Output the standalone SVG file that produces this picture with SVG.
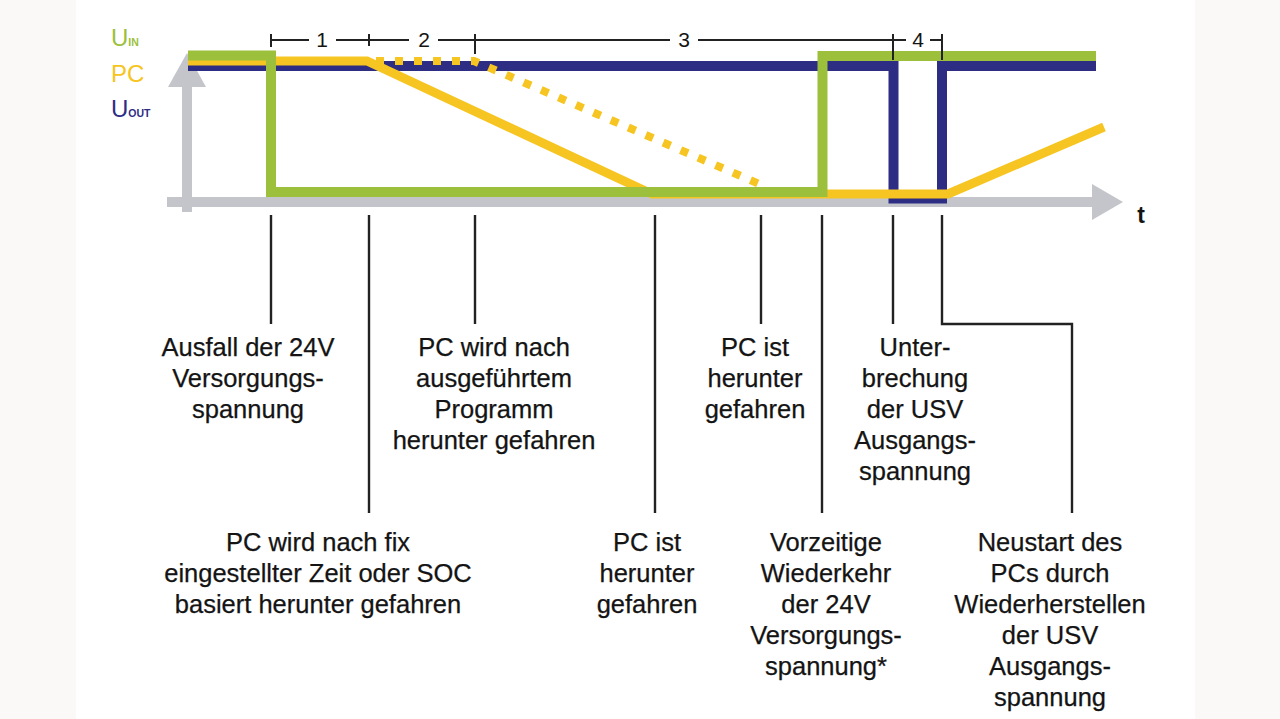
<svg xmlns="http://www.w3.org/2000/svg" width="1280" height="719" viewBox="0 0 1280 719">
<style>
.lbl{font-family:"Liberation Sans",Arial,Helvetica,sans-serif;font-size:25.5px;fill:#141414;text-anchor:middle;stroke:#141414;stroke-width:0.25}
.num{font-family:"Liberation Sans",Arial,Helvetica,sans-serif;font-size:21px;fill:#141414;text-anchor:middle}
.leg{font-family:"Liberation Sans",Arial,Helvetica,sans-serif;font-size:24px}
.sub{font-family:"Liberation Sans",Arial,Helvetica,sans-serif;font-size:10.5px;font-weight:bold}
.tick{stroke:#222;stroke-width:2.4;fill:none}
.brk{stroke:#222;stroke-width:2;fill:none}
.sig{fill:none;stroke-linejoin:miter;stroke-linecap:butt}
</style>
<rect x="0" y="0" width="1280" height="719" fill="#ffffff"/>
<rect x="0" y="0" width="76" height="719" fill="#fbf9f8"/>
<rect x="1195" y="0" width="85" height="719" fill="#fbf9f8"/>

<g id="axes" fill="#c3c5cb">
  <rect x="167" y="197" width="926" height="10"/>
  <polygon points="1092,184 1123,202 1092,220"/>
  <rect x="182" y="86" width="10" height="126"/>
  <polygon points="168,87 187,53 206,87"/>
  <text x="1141" y="223" font-family="Liberation Sans,Arial,sans-serif" font-size="23" font-weight="bold" fill="#141414" text-anchor="middle">t</text>
</g>

<g id="legend">
  <text class="leg" x="111" y="46" fill="#9cc03c">U<tspan class="sub" fill="#9cc03c">IN</tspan></text>
  <text class="leg" x="111" y="82" fill="#f6c521">PC</text>
  <text class="leg" x="111" y="117" fill="#2e2d84">U<tspan class="sub" fill="#2e2d84">OUT</tspan></text>
</g>

<g id="signals">
  <path id="u-out" class="sig" stroke="#2e2d84" stroke-width="10" d="M188,66 H893.5 V198.5 H942 V66 H1096"/>
  <path id="pc-dashed" class="sig" stroke="#f6c521" stroke-width="8" stroke-dasharray="8 11" d="M376,61 H474 L764,186"/>
  <path id="pc" class="sig" stroke="#f6c521" stroke-width="9" d="M188,61 H367 L652,194 H948 L1104,127"/>
  <path id="u-in" class="sig" stroke="#9cc03c" stroke-width="10" d="M188,55.5 H271 V192 H822.5 V56 H1096"/>
</g>

<g id="phases">
  <path class="brk" d="M271,34 V47 M271,40 H309 M336,40 H369 M369,34 V46 M369,40 H409 M438,40 H475 M475,34 V54 M475,40 H670 M698,40 H893 M893,34 V60 M893,40 H906 M930,40 H942 M942,34 V60"/>
  <text class="num" x="322" y="47">1</text>
  <text class="num" x="424" y="47">2</text>
  <text class="num" x="684" y="47">3</text>
  <text class="num" x="918" y="47">4</text>
</g>

<g id="connectors">
  <path class="tick" d="M271,215 V324"/>
  <path class="tick" d="M369,215 V513"/>
  <path class="tick" d="M475,215 V324"/>
  <path class="tick" d="M655,215 V513"/>
  <path class="tick" d="M761,215 V324"/>
  <path class="tick" d="M822,215 V513"/>
  <path class="tick" d="M893,215 V324"/>
  <path class="tick" d="M942,215 V324 H1072 V513"/>
</g>

<g id="n-ausfall">
  <text class="lbl" x="248" y="356">Ausfall der 24V</text>
  <text class="lbl" x="248" y="387">Versorgungs-</text>
  <text class="lbl" x="248" y="418">spannung</text>
</g>
<g id="n-programm">
  <text class="lbl" x="494" y="356">PC wird nach</text>
  <text class="lbl" x="494" y="387">ausgeführtem</text>
  <text class="lbl" x="494" y="418">Programm</text>
  <text class="lbl" x="494" y="449">herunter gefahren</text>
</g>
<g id="n-pcist1">
  <text class="lbl" x="755" y="356">PC ist</text>
  <text class="lbl" x="755" y="387">herunter</text>
  <text class="lbl" x="755" y="418">gefahren</text>
</g>
<g id="n-unterbrechung">
  <text class="lbl" x="915" y="356">Unter-</text>
  <text class="lbl" x="915" y="387">brechung</text>
  <text class="lbl" x="915" y="418">der USV</text>
  <text class="lbl" x="915" y="449">Ausgangs-</text>
  <text class="lbl" x="915" y="480">spannung</text>
</g>
<g id="n-fix">
  <text class="lbl" x="318" y="551">PC wird nach fix</text>
  <text class="lbl" x="318" y="582">eingestellter Zeit oder SOC</text>
  <text class="lbl" x="318" y="613">basiert herunter gefahren</text>
</g>
<g id="n-pcist2">
  <text class="lbl" x="647" y="551">PC ist</text>
  <text class="lbl" x="647" y="582">herunter</text>
  <text class="lbl" x="647" y="613">gefahren</text>
</g>
<g id="n-wiederkehr">
  <text class="lbl" x="826" y="551">Vorzeitige</text>
  <text class="lbl" x="826" y="582">Wiederkehr</text>
  <text class="lbl" x="826" y="613">der 24V</text>
  <text class="lbl" x="826" y="644">Versorgungs-</text>
  <text class="lbl" x="826" y="675">spannung*</text>
</g>
<g id="n-neustart">
  <text class="lbl" x="1050" y="551">Neustart des</text>
  <text class="lbl" x="1050" y="582">PCs durch</text>
  <text class="lbl" x="1050" y="613">Wiederherstellen</text>
  <text class="lbl" x="1050" y="644">der USV</text>
  <text class="lbl" x="1050" y="675">Ausgangs-</text>
  <text class="lbl" x="1050" y="706">spannung</text>
</g>
</svg>
